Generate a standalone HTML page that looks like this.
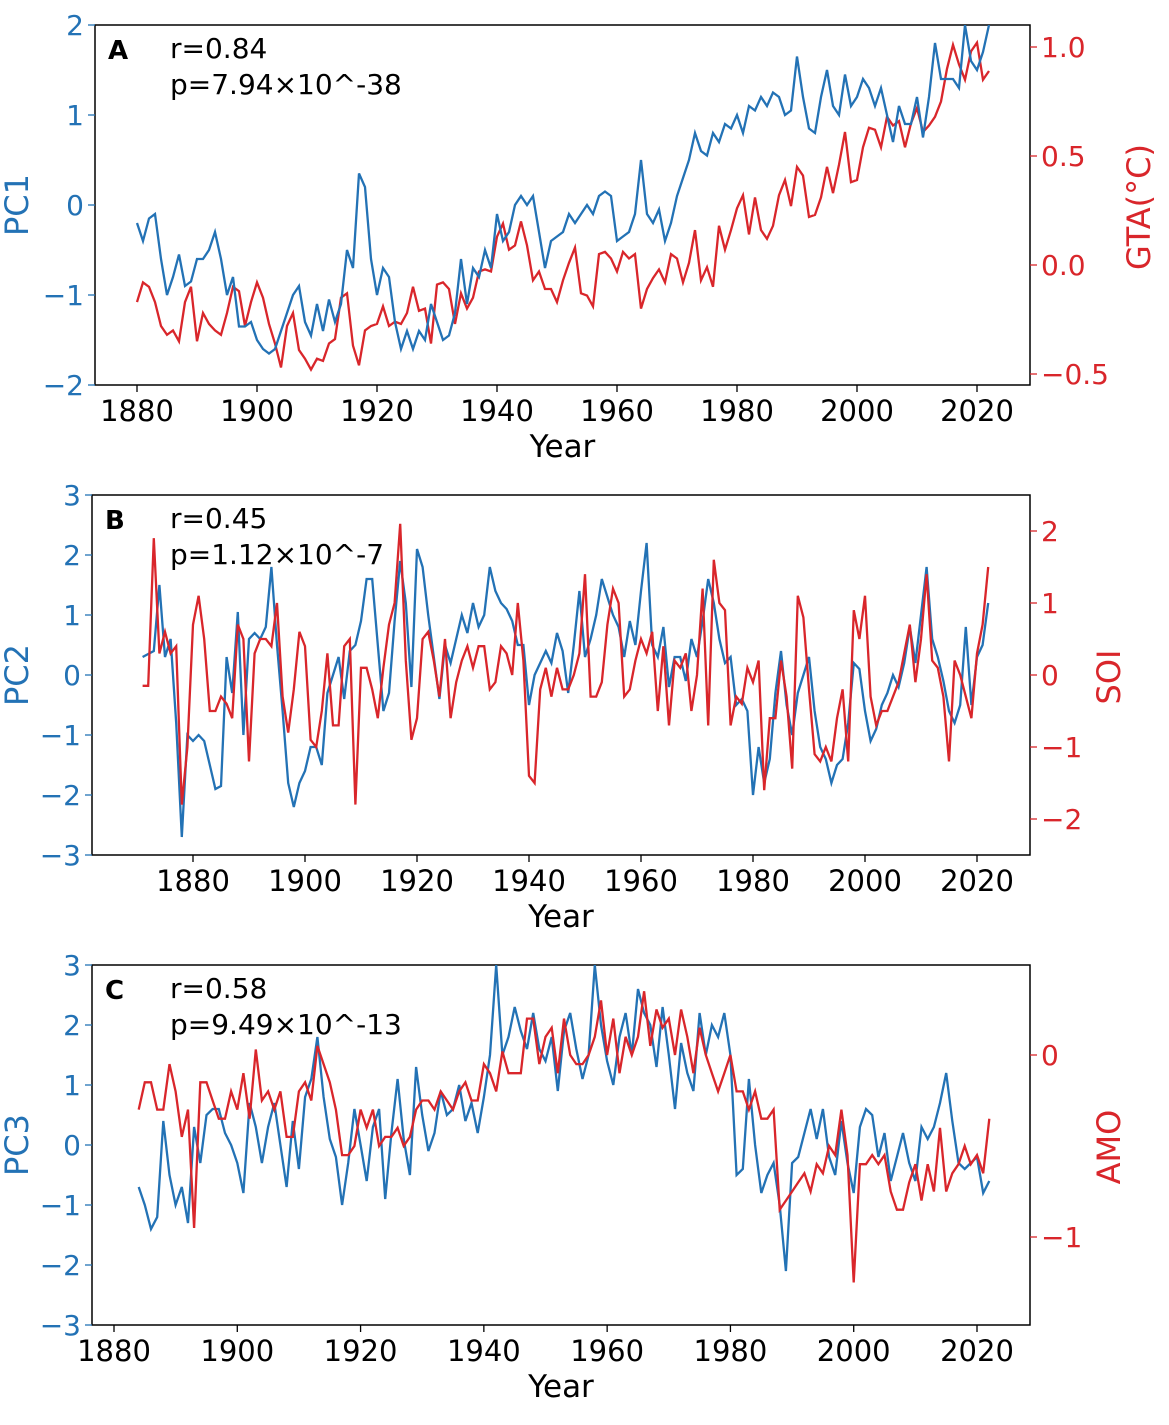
<!DOCTYPE html>
<html><head><meta charset="utf-8"><style>
body{margin:0;background:#fff;width:1169px;height:1420px;overflow:hidden}
svg text{font-family:"DejaVu Sans","Liberation Sans",sans-serif}
</style></head><body>
<svg id="chart" width="1169" height="1420" xmlns="http://www.w3.org/2000/svg"></svg>
<script>
// ---- Panel A data ----
const yearsA = []; for (let y = 1880; y <= 2022; y++) yearsA.push(y);
const pc1 = [-0.2,-0.4,-0.15,-0.1,-0.6,-1.0,-0.8,-0.55,-0.9,-0.85,-0.6,-0.6,-0.5,-0.3,-0.6,-1.0,-0.8,-1.35,-1.35,-1.3,-1.5,-1.6,-1.65,-1.6,-1.4,-1.2,-1.0,-0.9,-1.3,-1.45,-1.1,-1.4,-1.05,-1.3,-1.1,-0.5,-0.7,0.35,0.2,-0.6,-1.0,-0.7,-0.8,-1.3,-1.6,-1.4,-1.6,-1.4,-1.5,-1.1,-1.3,-1.5,-1.45,-1.2,-0.6,-1.1,-0.7,-0.8,-0.5,-0.7,-0.1,-0.4,-0.3,0.0,0.1,0.0,0.1,-0.3,-0.7,-0.4,-0.35,-0.3,-0.1,-0.2,-0.1,0.0,-0.1,0.1,0.15,0.1,-0.4,-0.35,-0.3,-0.1,0.5,-0.1,-0.2,-0.05,-0.4,-0.2,0.1,0.3,0.5,0.8,0.6,0.55,0.8,0.7,0.9,0.85,1.0,0.8,1.1,1.05,1.2,1.1,1.25,1.2,1.0,1.05,1.65,1.2,0.85,0.8,1.2,1.5,1.1,1.0,1.45,1.1,1.2,1.4,1.3,1.1,1.3,1.0,0.7,1.1,0.9,0.9,1.2,0.75,1.2,1.8,1.4,1.4,1.4,1.3,2.0,1.6,1.5,1.7,2.0];
const gta = [-0.17,-0.08,-0.1,-0.17,-0.28,-0.32,-0.3,-0.35,-0.17,-0.1,-0.35,-0.22,-0.27,-0.3,-0.32,-0.22,-0.1,-0.12,-0.28,-0.17,-0.08,-0.15,-0.27,-0.36,-0.47,-0.28,-0.22,-0.39,-0.43,-0.48,-0.43,-0.44,-0.36,-0.34,-0.15,-0.13,-0.37,-0.46,-0.3,-0.28,-0.27,-0.19,-0.28,-0.26,-0.27,-0.22,-0.1,-0.21,-0.2,-0.36,-0.09,-0.08,-0.11,-0.27,-0.13,-0.2,-0.15,-0.03,-0.02,-0.03,0.13,0.19,0.07,0.09,0.2,0.09,-0.07,-0.03,-0.11,-0.11,-0.17,-0.07,0.01,0.08,-0.13,-0.14,-0.19,0.05,0.06,0.03,-0.03,0.06,0.03,0.05,-0.2,-0.11,-0.06,-0.02,-0.08,0.05,0.03,-0.08,0.01,0.16,-0.07,-0.01,-0.1,0.18,0.07,0.16,0.26,0.32,0.14,0.31,0.16,0.12,0.18,0.32,0.39,0.27,0.45,0.41,0.22,0.23,0.31,0.45,0.33,0.46,0.61,0.38,0.39,0.54,0.63,0.62,0.54,0.68,0.64,0.66,0.54,0.65,0.72,0.61,0.64,0.68,0.75,0.9,1.01,0.92,0.85,0.98,1.02,0.85,0.89];
// ---- Panel B data ----
const yearsB = []; for (let y = 1871; y <= 2022; y++) yearsB.push(y);
const pc2 = [0.3,0.35,0.4,1.5,0.3,0.6,-0.8,-2.7,-1.0,-1.1,-1.0,-1.1,-1.5,-1.9,-1.85,0.3,-0.3,1.05,-1.0,0.6,0.7,0.6,0.8,1.8,0.5,-0.6,-1.8,-2.2,-1.8,-1.6,-1.2,-1.2,-1.5,-0.3,0.0,0.3,-0.4,0.4,0.5,0.9,1.6,1.6,0.5,-0.6,-0.3,0.9,1.9,1.2,-0.2,2.1,1.8,1.0,0.3,-0.4,0.5,0.2,0.6,1.0,0.7,1.2,0.8,1.0,1.8,1.4,1.2,1.1,0.9,0.5,0.5,-0.5,0.0,0.2,0.4,0.2,0.7,0.4,-0.3,0.5,1.4,0.3,0.6,1.0,1.6,1.3,1.0,0.8,0.3,0.9,0.5,1.4,2.2,0.5,0.3,0.8,-0.2,0.3,0.3,-0.1,0.6,0.3,0.9,1.6,1.2,0.6,0.2,0.3,-0.5,-0.4,-0.6,-2.0,-1.2,-1.8,-1.4,-0.3,0.4,-0.5,-1.0,-0.3,0.0,0.3,-0.6,-1.2,-1.4,-1.8,-1.5,-1.4,-0.8,0.2,0.1,-0.6,-1.1,-0.9,-0.5,-0.3,0.0,-0.2,0.2,0.8,0.2,1.0,1.8,0.6,0.3,-0.1,-0.6,-0.8,-0.5,0.8,-0.5,0.3,0.5,1.2];
const soi = [-0.15,-0.15,1.9,0.3,0.6,0.3,0.4,-1.8,-1.0,0.7,1.1,0.5,-0.5,-0.5,-0.3,-0.4,-0.6,0.7,0.5,-1.2,0.3,0.5,0.5,0.4,1.0,-0.3,-0.8,-0.2,0.6,0.4,-0.9,-1.0,-0.5,0.3,-0.7,-0.7,0.4,0.5,-1.8,0.1,0.1,-0.2,-0.6,0.1,0.7,1.0,2.1,0.2,-0.9,-0.6,0.5,0.6,0.2,-0.3,0.5,-0.6,-0.1,0.2,0.4,0.1,0.4,0.4,-0.2,-0.1,0.4,0.3,0.0,1.0,0.2,-1.4,-1.5,-0.2,0.1,-0.3,0.1,-0.2,-0.2,0.0,0.3,1.4,-0.3,-0.3,-0.1,0.7,1.2,1.0,-0.3,-0.2,0.2,0.5,0.3,0.6,-0.5,0.4,-0.7,0.2,0.1,0.3,-0.5,0.0,1.2,-0.7,1.6,1.0,0.9,-0.7,-0.3,-0.4,0.1,-0.1,0.2,-1.6,-0.6,-0.6,0.2,-0.3,-1.3,1.1,0.8,-0.2,-1.1,-1.2,-1.0,-1.2,-0.6,-0.2,-1.2,0.9,0.5,1.1,-0.3,-0.7,-0.5,-0.5,-0.3,-0.1,0.3,0.7,-0.1,0.5,1.4,0.2,0.1,-0.3,-1.2,0.2,0.0,-0.3,-0.6,0.3,0.7,1.5];
// ---- Panel C data ----
const yearsC = []; for (let y = 1884; y <= 2022; y++) yearsC.push(y);
const pc3 = [-0.7,-1.0,-1.4,-1.2,0.4,-0.5,-1.0,-0.7,-1.3,0.3,-0.3,0.5,0.6,0.6,0.2,0.0,-0.3,-0.8,0.7,0.3,-0.3,0.3,0.7,0.0,-0.7,0.4,-0.4,0.8,1.1,1.8,0.8,0.1,-0.2,-1.0,-0.3,0.6,0.0,-0.6,0.3,0.6,-0.9,0.2,1.1,0.1,-0.5,1.3,0.5,-0.1,0.2,0.9,0.5,0.6,1.0,0.4,0.7,0.2,0.8,1.5,3.0,1.5,1.8,2.3,1.9,1.6,2.2,1.6,1.4,1.8,0.9,1.9,2.2,1.6,1.1,1.5,3.0,2.0,1.4,1.0,1.8,2.2,1.5,2.6,2.2,2.0,1.3,2.3,1.5,0.6,1.7,1.2,0.9,2.2,1.5,2.0,1.8,2.2,1.5,-0.5,-0.4,1.1,0.0,-0.8,-0.5,-0.3,-1.0,-2.1,-0.3,-0.2,0.2,0.6,0.1,0.6,-0.2,-0.5,0.4,-0.3,-0.8,0.3,0.6,0.5,-0.2,0.2,-0.6,-0.2,0.2,-0.3,-0.6,0.3,0.1,0.3,0.7,1.2,0.4,-0.3,-0.4,-0.3,-0.2,-0.8,-0.6];
const amo = [-0.3,-0.15,-0.15,-0.3,-0.3,-0.05,-0.2,-0.45,-0.3,-0.95,-0.15,-0.15,-0.25,-0.35,-0.35,-0.2,-0.3,-0.1,-0.35,0.03,-0.25,-0.2,-0.3,-0.2,-0.45,-0.45,-0.2,-0.15,-0.25,0.05,-0.05,-0.15,-0.3,-0.55,-0.55,-0.5,-0.3,-0.4,-0.3,-0.5,-0.45,-0.45,-0.4,-0.5,-0.45,-0.3,-0.25,-0.25,-0.3,-0.2,-0.25,-0.3,-0.2,-0.15,-0.25,-0.25,-0.05,-0.1,-0.2,0.02,-0.1,-0.1,-0.1,0.2,0.2,-0.05,0.1,0.15,-0.1,0.2,0.0,-0.05,-0.05,0.0,0.1,0.3,0.0,0.2,-0.1,0.1,0.0,0.1,0.35,0.05,0.25,0.15,0.2,0.0,0.25,0.1,-0.1,0.15,0.0,-0.1,-0.2,-0.1,0.0,-0.2,-0.2,-0.3,-0.2,-0.35,-0.35,-0.3,-0.85,-0.8,-0.75,-0.7,-0.65,-0.75,-0.6,-0.65,-0.5,-0.55,-0.3,-0.55,-1.25,-0.6,-0.6,-0.55,-0.6,-0.55,-0.75,-0.85,-0.85,-0.7,-0.6,-0.8,-0.6,-0.75,-0.4,-0.75,-0.65,-0.6,-0.5,-0.6,-0.55,-0.65,-0.35];
// tick labels
const xTicks = [1880,1900,1920,1940,1960,1980,2000,2020];
const leftTicksA = [-2,-1,0,1,2];
const rightTicksA = [-0.5,0.0,0.5,1.0];
const leftTicksBC = [-3,-2,-1,0,1,2,3];
const rightTicksB = [-2,-1,0,1,2];
const rightTicksC = [-1,0];

const svg = document.getElementById('chart');
const NS = 'http://www.w3.org/2000/svg';
const BLUE = '#2372b5', RED = '#d9262b';
function el(tag, attrs, parent) {
  const e = document.createElementNS(NS, tag);
  for (const k in attrs) e.setAttribute(k, attrs[k]);
  (parent || svg).appendChild(e);
  return e;
}
function fmt(v, dec) { const s = Math.abs(v).toFixed(dec); return (v < 0 ? '\u2212' : '') + s; }

function panel(p) {
  const g = el('g', {});
  
  
  const X = yr => p.x0 + (yr - p.xa) * (p.xb - p.x0) / (p.xbYear - p.xa);
  const YL = v => p.yL0 + (v - p.vL0) * (p.yL1 - p.yL0) / (p.vL1 - p.vL0);
  const YR = v => p.yR0 + (v - p.vR0) * (p.yR1 - p.yR0) / (p.vR1 - p.vR0);
  const box = el('rect', {x: p.L, y: p.T, width: p.R - p.L, height: p.B - p.T, fill: 'none', stroke: '#000', 'stroke-width': 1.5}, g);
  
  
  xTicks.forEach(t => {
    const x = X(t);
    el('line', {x1: x, x2: x, y1: p.B, y2: p.B + 7, stroke: '#000', 'stroke-width': 1.3}, g);
    const tx = el('text', {x: x, y: p.B + 36, 'text-anchor': 'middle', 'font-size': 29, fill: '#000'}, g);
    tx.textContent = t;
    
    
  });
  const xt = el('text', {x: (p.L + p.R) / 2, y: p.B + 72, 'text-anchor': 'middle', 'font-size': 31, fill: '#000'}, g);
  xt.textContent = 'Year';
  
  
  p.lt.forEach(t => {
    const y = YL(t);
    el('line', {x1: p.L - 7, x2: p.L, y1: y, y2: y, stroke: BLUE, 'stroke-width': 1.3}, g);
    const tx = el('text', {x: p.L - 11, y: y + 10, 'text-anchor': 'end', 'font-size': 28, fill: BLUE}, g);
    tx.textContent = fmt(t, 0);
    
    
  });
  p.rt.forEach(t => {
    const y = YR(t);
    el('line', {x1: p.R, x2: p.R + 7, y1: y, y2: y, stroke: RED, 'stroke-width': 1.3}, g);
    const tx = el('text', {x: p.R + 11, y: y + 10, 'text-anchor': 'start', 'font-size': 28, fill: RED}, g);
    tx.textContent = fmt(t, p.rdec);
    
    
  });
  const yl = el('text', {x: 0, y: 0, 'text-anchor': 'middle', 'font-size': 32, fill: BLUE, transform: `translate(${p.lx},${(p.T + p.B) / 2}) rotate(-90)`}, g);
  yl.textContent = p.lname;
  
  
  const yr = el('text', {x: 0, y: 0, 'text-anchor': 'middle', 'font-size': 32, fill: RED, transform: `translate(${p.rx},${p.rcy}) rotate(-90)`}, g);
  yr.textContent = p.rname;
  
  
  const cid = 'clip' + p.id;
  const cp = el('clipPath', {id: cid}, g);
  el('rect', {x: p.L, y: p.T, width: p.R - p.L, height: p.B - p.T}, cp);
  const mk = (yrs, vals, Y) => yrs.map((yy, i) => (i ? 'L' : 'M') + X(yy).toFixed(1) + ',' + Y(vals[i]).toFixed(1)).join('');
  const order = p.redFirst ? ['r', 'b'] : ['b', 'r'];
  order.forEach(o => {
    if (o === 'b') {
      const l = el('path', {d: mk(p.yrs, p.left, YL), fill: 'none', stroke: BLUE, 'stroke-width': 2.3, 'clip-path': `url(#${cid})`}, g);
      
      
    } else {
      const l = el('path', {d: mk(p.yrs, p.right, YR), fill: 'none', stroke: RED, 'stroke-width': 2.3, 'clip-path': `url(#${cid})`}, g);
      
      
    }
  });
  const la = el('text', {x: p.L + 13, y: p.T + 34, 'font-size': 26, 'font-weight': 'bold', fill: '#000'}, g);
  la.textContent = p.id;
  
  
  const r = el('text', {x: 170, y: p.T + 33, 'font-size': 28, fill: '#000'}, g);
  r.textContent = p.r;
  
  
  const pv = el('text', {x: 170, y: p.T + 69, 'font-size': 28, fill: '#000'}, g);
  pv.textContent = p.p;
  
  
}

panel({id:'A', L:95, R:1030, T:25, B:385, x0:137, xa:1880, xb:977, xbYear:2020,
  yL0:205, vL0:0, yL1:25, vL1:2, yR0:265, vR0:0, yR1:47, vR1:1.0,
  lt:leftTicksA, rt:rightTicksA, rdec:1, lname:'PC1', rname:'GTA(°C)', lx:28, rx:1150, rcy:207,
  yrs:yearsA, left:pc1, right:gta, r:'r=0.84', p:'p=7.94\u00d710^-38', redFirst:true});
panel({id:'B', L:92, R:1030, T:495, B:855, x0:193, xa:1880, xb:977, xbYear:2020,
  yL0:675, vL0:0, yL1:495, vL1:3, yR0:675, vR0:0, yR1:531, vR1:2,
  lt:leftTicksBC, rt:rightTicksB, rdec:0, lname:'PC2', rname:'SOI', lx:28, rx:1120, rcy:677,
  yrs:yearsB, left:pc2, right:soi, r:'r=0.45', p:'p=1.12\u00d710^-7'});
panel({id:'C', L:92, R:1030, T:965, B:1325, x0:114, xa:1880, xb:977, xbYear:2020,
  yL0:1145, vL0:0, yL1:965, vL1:3, yR0:1055, vR0:0, yR1:1237, vR1:-1,
  lt:leftTicksBC, rt:rightTicksC, rdec:0, lname:'PC3', rname:'AMO', lx:28, rx:1120, rcy:1147,
  yrs:yearsC, left:pc3, right:amo, r:'r=0.58', p:'p=9.49\u00d710^-13'});
</script>
</body></html>
